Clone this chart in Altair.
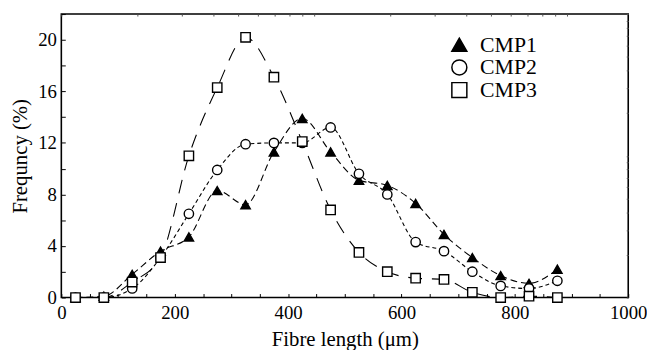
import altair as alt
import pandas as pd

lengths = [25, 75, 125, 175, 225, 275, 325, 375, 425, 475, 525, 575, 625, 675, 725, 775, 825, 875]
cmp1 = [0.0, 0.1, 1.8, 3.6, 4.7, 8.3, 7.2, 11.3, 13.9, 11.3, 9.1, 8.7, 7.3, 4.9, 3.1, 1.7, 1.1, 2.2]
cmp2 = [0.0, 0.0, 0.7, 3.1, 6.5, 9.9, 11.9, 12.0, 12.0, 13.2, 9.6, 8.0, 4.3, 3.6, 2.0, 0.9, 0.7, 1.3]
cmp3 = [0.0, 0.0, 1.2, 3.1, 11.0, 16.3, 20.2, 17.1, 12.1, 6.8, 3.5, 2.0, 1.5, 1.4, 0.4, 0.0, 0.1, 0.0]
series_names = ["CMP1", "CMP2", "CMP3"]
dashes = [[7, 4], [4, 3], [14, 10]]

x_labels = [0, 200, 400, 600, 800, 1000]
x_minor = list(range(0, 1001, 50))
y_labels = [0, 4, 8, 12, 16, 20]
y_minor = list(range(0, 23, 2))
top_log_ticks = [1, 2, 3, 4, 5, 6, 7, 8, 9, 10, 20, 30, 40, 50, 60, 70, 80, 90, 100]
right_log_ticks = [0.1, 0.2, 0.3, 0.4, 0.5, 0.6, 0.7, 0.8, 0.9, 1, 2, 3, 4, 5, 6, 7, 8, 9, 10]

rows = []
for name, vals in zip(series_names, [cmp1, cmp2, cmp3]):
    for L, v in zip(lengths, vals):
        rows.append({"length": L, "freq": v, "series": name})
df = pd.DataFrame(rows)

W, H = 574, 287
FONT = "Liberation Serif, Times New Roman, serif"

xs = alt.Scale(domain=[0, 1000], nice=False, zero=False)
ys = alt.Scale(domain=[0, 22], nice=False, zero=False)

base = alt.Chart(df)

main_x_axis = alt.Axis(orient="bottom", values=x_labels, ticks=False, domain=False, grid=False,
                       format="d", title="Fibre length (μm)", labelFont=FONT, labelFontSize=19,
                       labelColor="black", labelPadding=6, titleFont=FONT, titleFontSize=21,
                       titleFontWeight="normal", titleColor="black", titlePadding=7,
                       labelFlush=False)
main_y_axis = alt.Axis(orient="left", values=y_labels, ticks=False, domain=False, grid=False,
                       title="Frequncy (%)", labelFont=FONT, labelFontSize=19,
                       labelColor="black", labelPadding=5, titleFont=FONT, titleFontSize=21,
                       titleFontWeight="normal", titleColor="black", titlePadding=7)

line_layers = []
for i, (name, dash) in enumerate(zip(series_names, dashes)):
    line_layers.append(
        base.transform_filter(alt.datum.series == name)
        .mark_line(color="black", strokeWidth=1.1, interpolate="monotone", strokeDash=dash, clip=True)
        .encode(
            x=alt.X("length:Q", scale=xs, axis=main_x_axis if i == 0 else None),
            y=alt.Y("freq:Q", scale=ys, axis=main_y_axis if i == 0 else None),
        )
    )

leg = alt.Legend(title=None, orient="none", legendX=392, legendY=20,
                 labelFont=FONT, labelFontSize=22, labelColor="black",
                 symbolSize=230, symbolStrokeColor="black",
                 symbolStrokeWidth=1.5, labelOffset=10, rowPadding=1)

points = base.mark_point(strokeWidth=1.4, opacity=1, fillOpacity=1, size=90).encode(
    x=alt.X("length:Q", scale=xs,
            axis=alt.Axis(orient="top", offset=-H, values=x_minor, labels=False, domain=False,
                          grid=False, title=None, tickSize=4, tickColor="black", tickWidth=1)),
    y=alt.Y("freq:Q", scale=ys,
            axis=alt.Axis(orient="right", offset=-W, values=y_minor, labels=False, domain=False,
                          grid=False, title=None, tickSize=4, tickColor="black", tickWidth=1)),
    shape=alt.Shape("series:N",
                    scale=alt.Scale(domain=series_names, range=["triangle-up", "circle", "square"]),
                    legend=leg),
    fill=alt.Fill("series:N",
                  scale=alt.Scale(domain=series_names, range=["black", "white", "white"]),
                  legend=leg),
    stroke=alt.Stroke("series:N",
                      scale=alt.Scale(domain=series_names, range=["black", "black", "black"]),
                      legend=leg),
)

ghost = base.mark_point(opacity=0, clip=True).encode(
    x=alt.X("length:Q", scale=alt.Scale(type="log", domain=[1, 175], nice=False),
            axis=alt.Axis(orient="bottom", offset=-H, values=top_log_ticks, labels=False,
                          domain=False, grid=False, title=None, tickSize=2,
                          tickColor="#555555", tickWidth=1)),
    y=alt.Y("length:Q", scale=alt.Scale(type="log", domain=[0.1, 10], nice=False),
            axis=alt.Axis(orient="left", offset=-W, values=right_log_ticks, labels=False,
                          domain=False, grid=False, title=None, tickSize=2,
                          tickColor="#555555", tickWidth=1)),
)

chart = alt.layer(*line_layers, points, ghost).resolve_scale(
    x="independent", y="independent"
).properties(
    width=W, height=H,
    autosize=alt.AutoSizeParams(type="none"),
    padding={"left": 54, "top": 4, "right": 19, "bottom": 51},
    background="white",
).configure_view(stroke="black", strokeWidth=1.6)

chart.save("out.html", embed_options={"renderer": "svg", "actions": False})
